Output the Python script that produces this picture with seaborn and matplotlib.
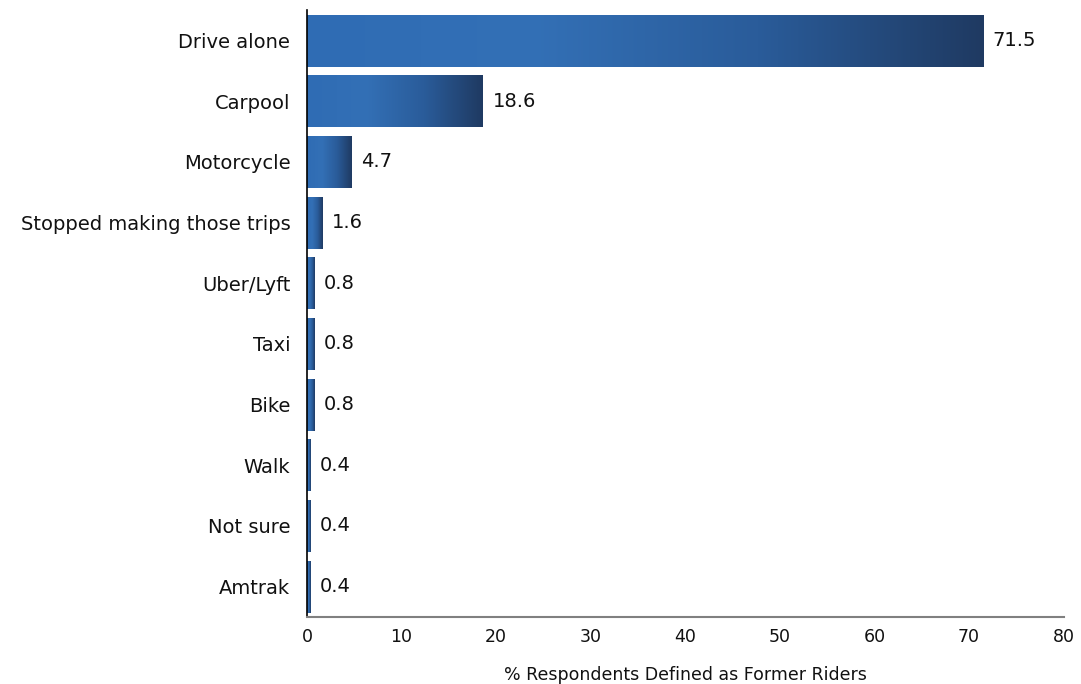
import numpy as np
import pandas as pd
import matplotlib
matplotlib.use("Agg")
import matplotlib.pyplot as plt
from matplotlib.colors import LinearSegmentedColormap
import seaborn as sns

categories = ["Drive alone", "Carpool", "Motorcycle", "Stopped making those trips",
              "Uber/Lyft", "Taxi", "Bike", "Walk", "Not sure", "Amtrak"]
values = [71.5, 18.6, 4.7, 1.6, 0.8, 0.8, 0.8, 0.4, 0.4, 0.4]
x_ticks = [0, 10, 20, 30, 40, 50, 60, 70, 80]
x_label = "% Respondents Defined as Former Riders"

sns.set_theme(style="white")
plt.rcParams['font.family'] = ['DejaVu Sans']

df = pd.DataFrame({"mode": categories, "pct": values})

fig = plt.figure(figsize=(10.81, 6.84), dpi=100)
ax = fig.add_axes([0.284, 0.098, 0.700, 0.887])

sns.barplot(data=df, y="mode", x="pct", orient="h", ax=ax, color="#2f6cb4",
            width=0.86, saturation=1)

cmap = LinearSegmentedColormap.from_list("grad", ["#2f6cb4", "#3370b6", "#2a5c9a", "#1f3a62"])
grad = np.linspace(0, 1, 256).reshape(1, -1)
for p in ax.patches:
    x0, y0 = p.get_x(), p.get_y()
    w, h = p.get_width(), p.get_height()
    p.set_facecolor("none")
    p.set_edgecolor("none")
    im = ax.imshow(grad, cmap=cmap, aspect="auto", extent=[x0, x0 + w, y0 + h, y0],
                   zorder=2, interpolation="bilinear")
    im.set_clip_path(p)

for i, v in enumerate(values):
    ax.text(v + 1.0, i, f"{v}", va="center", ha="left", fontsize=14, color="#111111")

ax.set_xlim(0, 80)
ax.set_ylim(len(categories) - 0.5, -0.5)
ax.set_xticks(x_ticks)
ax.set_xticklabels([str(t) for t in x_ticks], fontsize=12.5, color="#111111")
ax.tick_params(axis="y", labelsize=14, colors="#111111", length=0, pad=12)
ax.tick_params(axis="x", length=0, pad=8)
ax.set_ylabel("")
ax.set_xlabel(x_label, fontsize=12.5, color="#111111", labelpad=14)

for s in ["top", "right"]:
    ax.spines[s].set_visible(False)
ax.spines["left"].set_color("#000000")
ax.spines["left"].set_linewidth(1.2)
ax.spines["bottom"].set_color("#808080")
ax.spines["bottom"].set_linewidth(1.5)

fig.savefig("out.png", dpi=100)
